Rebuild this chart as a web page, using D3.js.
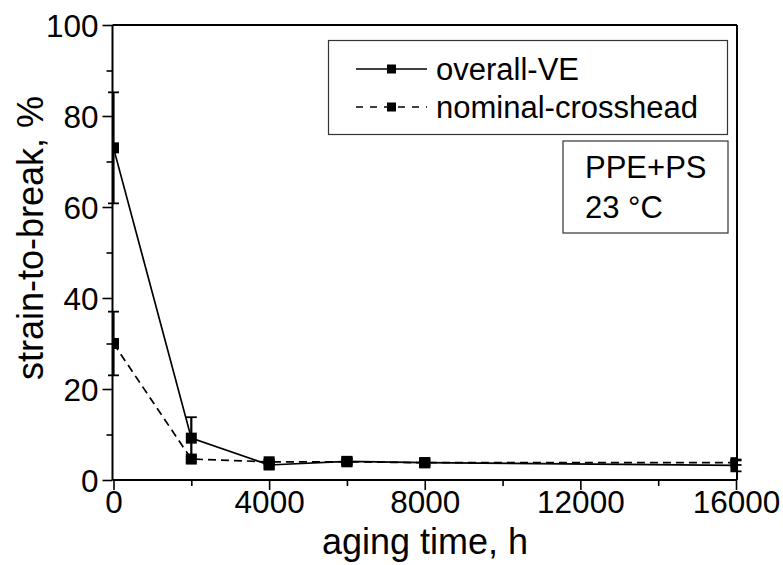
<!DOCTYPE html>
<html>
<head>
<meta charset="utf-8">
<script src="https://cdn.jsdelivr.net/npm/d3@7"></script>
<style>
  html, body { margin: 0; padding: 0; background: #fff; }
  svg { display: block; }
  text { font-family: "Liberation Sans", Arial, sans-serif; fill: #000; }
</style>
</head>
<body>
<svg id="chart" width="783" height="565"></svg>
<script>
// ---- data ----
const agingTime = [0, 2000, 4000, 6000, 8000, 16000];
const overallVE = [73, 9.2, 3.3, 4.1, 3.8, 3.2];
const overallErr = [12.2, 4.6, 0.8, 0.6, 0.6, 1.3];
const nominalCrosshead = [30, 4.6, 4.0, 4.0, 3.8, 3.8];
const nominalErr = [7, 0.6, 0.5, 0.5, 0.5, 0.5];
const xTicks = [0, 4000, 8000, 12000, 16000];
const xMinorTicks = [2000, 6000, 10000, 14000];
const yTicks = [0, 20, 40, 60, 80, 100];
const yMinorTicks = [10, 30, 50, 70, 90];
const seriesNames = ["overall-VE", "nominal-crosshead"];
const infoLines = ["PPE+PS", "23 \u00B0C"];

(function () {
// ---- layout ----
const svg = d3.select("#chart");
const pL = 112.5, pR = 737, pT = 25, pB = 480;
const x = d3.scaleLinear().domain([0, 16000]).range([113.5, 736]);
const y = d3.scaleLinear().domain([0, 100]).range([pB, pT]);
const dash = "8,5";

// clip
svg.append("defs").append("clipPath").attr("id", "plotclip")
  .append("rect").attr("x", pL).attr("y", pT - 20)
  .attr("width", pR - pL).attr("height", pB - pT + 20);

// frame top/right
svg.append("line").attr("x1", pL).attr("x2", pR).attr("y1", pT).attr("y2", pT)
  .attr("stroke", "#000").attr("stroke-width", 2);
svg.append("line").attr("x1", pR).attr("x2", pR).attr("y1", pT).attr("y2", pB)
  .attr("stroke", "#000").attr("stroke-width", 2);

// x axis
const gx = svg.append("g").attr("transform", `translate(0,${pB})`)
  .call(d3.axisBottom(x).tickValues(xTicks).tickSize(10).tickSizeOuter(0).tickFormat(d3.format("d")));
gx.append("g").call(d3.axisBottom(x).tickValues(xMinorTicks).tickSize(6).tickFormat(""))
  .select(".domain").remove();
// y axis
const gy = svg.append("g").attr("transform", `translate(${pL},0)`)
  .call(d3.axisLeft(y).tickValues(yTicks).tickSize(10).tickSizeOuter(0));
gy.append("g").call(d3.axisLeft(y).tickValues(yMinorTicks).tickSize(6).tickFormat(""))
  .select(".domain").remove();

[gx, gy].forEach(g => {
  g.selectAll("path.domain").attr("stroke", "#000").attr("stroke-width", 2);
  g.selectAll(".tick line").attr("stroke", "#000").attr("stroke-width", 1.6);
  g.selectAll(".tick text").style("font-family", "Liberation Sans, Arial, sans-serif")
    .style("font-size", "31.5px").attr("fill", "#000");
});
gx.select(".domain").attr("d", `M${pL},0H${pR}`);
gy.select(".domain").attr("d", `M0,${pB}V${pT}`);
gx.selectAll(".tick text").attr("y", 11).attr("dy", "0.71em");
gy.selectAll(".tick text").attr("x", -14).attr("dy", "0.36em");

// axis titles
svg.append("text").attr("x", 425).attr("y", 554).attr("text-anchor", "middle")
  .style("font-size", "36px").text("aging time, h");
svg.append("text").attr("transform", "translate(43,238) rotate(-90)").attr("text-anchor", "middle")
  .style("font-size", "36px").text("strain-to-break, %");

// data
const ebLayer = svg.append("g");
const plot = svg.append("g").attr("clip-path", "url(#plotclip)");
const series = [
  { name: seriesNames[0], vals: overallVE, err: overallErr, dash: null },
  { name: seriesNames[1], vals: nominalCrosshead, err: nominalErr, dash: dash }
];
const line = d3.line().x(d => x(d[0])).y(d => y(d[1]));
series.forEach(s => {
  const pts = agingTime.map((t, i) => [t, s.vals[i], s.err[i]]);
  const eb = ebLayer.append("g");
  pts.forEach(p => {
    eb.append("line").attr("x1", x(p[0])).attr("x2", x(p[0]))
      .attr("y1", y(p[1] + p[2])).attr("y2", y(p[1] - p[2]))
      .attr("stroke", "#000").attr("stroke-width", 2.2);
    [p[1] + p[2], p[1] - p[2]].forEach(v => {
      eb.append("line").attr("x1", x(p[0]) - 5.5).attr("x2", x(p[0]) + 5.5)
        .attr("y1", y(v)).attr("y2", y(v)).attr("stroke", "#000").attr("stroke-width", 1.8);
    });
  });
  plot.append("path").datum(pts).attr("d", line).attr("fill", "none")
    .attr("stroke", "#000").attr("stroke-width", 1.7)
    .attr("stroke-dasharray", s.dash);
  plot.selectAll(null).data(pts).enter().append("rect")
    .attr("x", d => x(d[0]) - 5.5).attr("y", d => y(d[1]) - 5.5)
    .attr("width", 11).attr("height", 11).attr("fill", "#000");
});

// legend
const lg = svg.append("g");
lg.append("rect").attr("x", 328.5).attr("y", 40.5).attr("width", 399).attr("height", 94)
  .attr("fill", "#fff").attr("stroke", "#333").attr("stroke-width", 1.2);
series.forEach((s, i) => {
  const cy = 69 + i * 38;
  lg.append("line").attr("x1", 356).attr("x2", 427).attr("y1", cy).attr("y2", cy)
    .attr("stroke", "#000").attr("stroke-width", 1.7).attr("stroke-dasharray", s.dash ? "7,7" : null);
  lg.append("rect").attr("x", 387).attr("y", cy - 4.5).attr("width", 9).attr("height", 9).attr("fill", "#000");
  lg.append("text").attr("x", 436).attr("y", cy + 10.5).style("font-size", "31px").text(s.name);
});

// info box
const ib = svg.append("g");
ib.append("rect").attr("x", 563).attr("y", 141).attr("width", 165).attr("height", 92)
  .attr("fill", "#fff").attr("stroke", "#333").attr("stroke-width", 1.2);
infoLines.forEach((t, i) => {
  ib.append("text").attr("x", 585).attr("y", 178 + i * 40).style("font-size", "31px").text(t);
});
})();
</script>
</body>
</html>
